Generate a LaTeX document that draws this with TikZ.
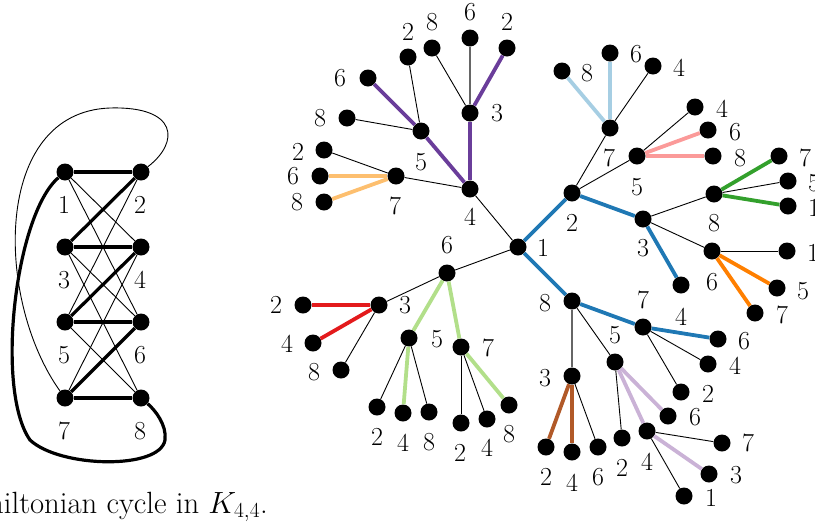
\documentclass[tikz,border=0pt]{standalone}
\usepackage{fix-cm}
\usepackage{tikz}
\definecolor{cblue}{HTML}{1F78B4}
\definecolor{clblue}{HTML}{A6CEE3}
\definecolor{cpink}{HTML}{FB9A99}
\definecolor{cgreen}{HTML}{33A02C}
\definecolor{corange}{HTML}{FF7F00}
\definecolor{clorange}{HTML}{FDBF6F}
\definecolor{clgreen}{HTML}{B2DF8A}
\definecolor{clav}{HTML}{CAB2D6}
\definecolor{cbrown}{HTML}{B15928}
\definecolor{cred}{HTML}{E31A1C}
\definecolor{cpurple}{HTML}{6A3D9A}
\tikzset{
  dot/.style={circle,fill=black,minimum size=17pt,inner sep=0pt},
  lab/.style={inner sep=0pt,font=\fontsize{26}{30}\selectfont},
  caplab/.style={inner sep=0pt,font=\fontsize{30.7}{35}\selectfont},
  tn/.style={line width=0.9pt,black},
  tg/.style={line width=1.1pt,black!60},
  tk/.style={line width=3.8pt},
  hk/.style={line width=3.2pt,black},
}
\newcommand\Dl[6]{\node[dot] (#1) at (#2,#3) {}; \node[lab] (#1l) at (#5,#6) {#4};}
\begin{document}
\begin{tikzpicture}[x=1pt,y=-1pt]
\useasboundingbox (0,0) rectangle (815,528);
\clip (0,0) rectangle (815,528);
% ---------- K_{4,4}
\Dl{l1}{65}{172}{1}{64}{205}
\Dl{l2}{141}{172}{2}{140}{205}
\Dl{l3}{65}{247}{3}{64}{280}
\Dl{l4}{141}{247}{4}{140}{280}
\Dl{l5}{65}{322}{5}{64}{355}
\Dl{l6}{141}{322}{6}{140}{355}
\Dl{l7}{65}{398}{7}{64}{431}
\Dl{l8}{141}{398}{8}{140}{431}
\foreach \a/\b in {l1/l4,l1/l6,l2/l5,l3/l6,l3/l8,l4/l7,l5/l8}
  \draw[tn] (\a) -- (\b);
\foreach \a/\b in {l1/l2,l2/l3,l3/l4,l4/l5,l5/l6,l6/l7,l7/l8}
  \draw[hk] (\a) -- (\b);
\draw[tn] (l2) .. controls (180,142) and (178,106) .. (110,108)
  .. controls (-8,112) and (-5,300) .. (l7);
\draw[hk] (l1) .. controls (15,215) and (-5,390) .. (30,440)
  .. controls (60,468) and (160,470) .. (165,440)
  .. controls (167,425) and (155,410) .. (l8);
\node[caplab,anchor=base east] (cap) at (268,513) {Hamiltonian cycle in $K_{4,4}$.};
% ---------- tree
\Dl{r1}{518}{247}{1}{543}{248}
% subtree 4
\Dl{a4}{470}{189}{4}{470}{217}
\Dl{a43}{470}{113}{3}{497}{113}
\Dl{a438}{432}{48}{8}{432}{22}
\Dl{a436}{470}{38}{6}{470}{12}
\Dl{a432}{507}{48}{2}{507}{22}
\Dl{a45}{421}{131}{5}{421}{162}
\Dl{a456}{368}{78}{6}{340}{78}
\Dl{a452}{408}{57}{2}{408}{32}
\Dl{a458}{347}{118}{8}{320}{118}
\Dl{a47}{396}{176}{7}{395}{206}
\Dl{a472}{324}{150}{2}{298}{152}
\Dl{a476}{320}{176}{6}{293}{176}
\Dl{a478}{324}{202}{8}{297}{202}
\draw[tn] (r1) -- (a4);
\draw[tk,cpurple] (a4) -- (a43);
\draw[tn] (a43) -- (a438);
\draw[tg] (a43) -- (a436);
\draw[tk,cpurple] (a43) -- (a432);
\draw[tk,cpurple] (a4) -- (a45);
\draw[tk,cpurple] (a45) -- (a456);
\draw[tn] (a45) -- (a452);
\draw[tn] (a45) -- (a458);
\draw[tn] (a4) -- (a47);
\draw[tn] (a47) -- (a472);
\draw[tk,clorange] (a47) -- (a476);
\draw[tk,clorange] (a47) -- (a478);
% subtree 6
\Dl{b6}{447}{273}{6}{447}{245}
\Dl{b63}{379}{305}{3}{405}{305}
\Dl{b632}{303}{305}{2}{276}{305}
\Dl{b634}{313}{343}{4}{287}{344}
\Dl{b638}{341}{370}{8}{314}{372}
\Dl{b65}{409}{338}{5}{437}{339}
\Dl{b652}{377}{407}{2}{377}{437}
\Dl{b654}{403}{413}{4}{403}{443}
\Dl{b658}{429}{412}{8}{429}{442}
\Dl{b67}{461}{347}{7}{488}{348}
\Dl{b672}{461}{423}{2}{460}{453}
\Dl{b674}{487}{419}{4}{487}{448}
\Dl{b678}{509}{405}{8}{509}{434}
\draw[tn] (r1) -- (b6);
\draw[tn] (b6) -- (b63);
\draw[tk,cred] (b63) -- (b632);
\draw[tk,cred] (b63) -- (b634);
\draw[tn] (b63) -- (b638);
\draw[tk,clgreen] (b6) -- (b65);
\draw[tn] (b65) -- (b652);
\draw[tk,clgreen] (b65) -- (b654);
\draw[tn] (b65) -- (b658);
\draw[tk,clgreen] (b6) -- (b67);
\draw[tn] (b67) -- (b672);
\draw[tn] (b67) -- (b674);
\draw[tk,clgreen] (b67) -- (b678);
% subtree 2
\Dl{c2}{572}{193}{2}{572}{223}
\Dl{c27}{610}{128}{7}{609}{158}
\Dl{c278}{562}{71}{8}{587}{73}
\Dl{c276}{610}{53}{6}{636}{54}
\Dl{c274}{653}{66}{4}{679}{68}
\Dl{c25}{637}{156}{5}{637}{187}
\Dl{c254}{695}{107}{4}{722}{109}
\Dl{c256}{708}{130}{6}{735}{132}
\Dl{c258}{713}{156}{8}{740}{158}
\Dl{c23}{643}{219}{3}{643}{248}
\Dl{c238}{714}{194}{8}{714}{223}
\Dl{c2387}{779}{156}{7}{805}{158}
\Dl{c2385}{788}{181}{5}{814}{183}
\Dl{c2381}{788}{206}{1}{814}{208}
\Dl{c236}{712}{251}{6}{712}{282}
\Dl{c2361}{787}{251}{1}{813}{253}
\Dl{c2365}{777}{288}{5}{803}{291}
\Dl{c2367}{755}{313}{7}{782}{315}
\Dl{c234}{681}{285}{4}{681}{317}
\draw[tk,cblue] (r1) -- (c2);
\draw[tn] (c2) -- (c27);
\draw[tk,clblue] (c27) -- (c278);
\draw[tk,clblue] (c27) -- (c276);
\draw[tn] (c27) -- (c274);
\draw[tn] (c2) -- (c25);
\draw[tn] (c25) -- (c254);
\draw[tk,cpink] (c25) -- (c256);
\draw[tk,cpink] (c25) -- (c258);
\draw[tk,cblue] (c2) -- (c23);
\draw[tn] (c23) -- (c238);
\draw[tk,cgreen] (c238) -- (c2387);
\draw[tn] (c238) -- (c2385);
\draw[tk,cgreen] (c238) -- (c2381);
\draw[tn] (c23) -- (c236);
\draw[tn] (c236) -- (c2361);
\draw[tk,corange] (c236) -- (c2365);
\draw[tk,corange] (c236) -- (c2367);
\draw[tk,cblue] (c23) -- (c234);
% subtree 8
\Dl{d8}{572}{301}{8}{545}{303}
\Dl{d87}{643}{327}{7}{643}{300}
\Dl{d876}{718}{339}{6}{744}{341}
\Dl{d874}{708}{364}{4}{735}{366}
\Dl{d872}{681}{392}{2}{708}{394}
\Dl{d83}{572}{376}{3}{545}{378}
\Dl{d832}{546}{447}{2}{546}{477}
\Dl{d834}{572}{452}{4}{572}{483}
\Dl{d836}{598}{447}{6}{598}{477}
\Dl{d85}{615}{362}{5}{615}{335}
\Dl{d852}{622}{438}{2}{622}{468}
\Dl{d856}{668}{416}{6}{695}{417}
\Dl{d854}{647}{431}{4}{647}{462}
\Dl{d8547}{722}{443}{7}{748}{443}
\Dl{d8543}{709}{474}{3}{736}{475}
\Dl{d8541}{684}{496}{1}{711}{498}
\draw[tk,cblue] (r1) -- (d8);
\draw[tk,cblue] (d8) -- (d87);
\draw[tk,cblue] (d87) -- (d876);
\draw[tn] (d87) -- (d874);
\draw[tn] (d87) -- (d872);
\draw[tg] (d8) -- (d83);
\draw[tk,cbrown] (d83) -- (d832);
\draw[tk,cbrown] (d83) -- (d834);
\draw[tn] (d83) -- (d836);
\draw[tn] (d8) -- (d85);
\draw[tn] (d85) -- (d852);
\draw[tk,clav] (d85) -- (d856);
\draw[tk,clav] (d85) -- (d854);
\draw[tn] (d854) -- (d8547);
\draw[tk,clav] (d854) -- (d8543);
\draw[tn] (d854) -- (d8541);
\end{tikzpicture}
\end{document}
